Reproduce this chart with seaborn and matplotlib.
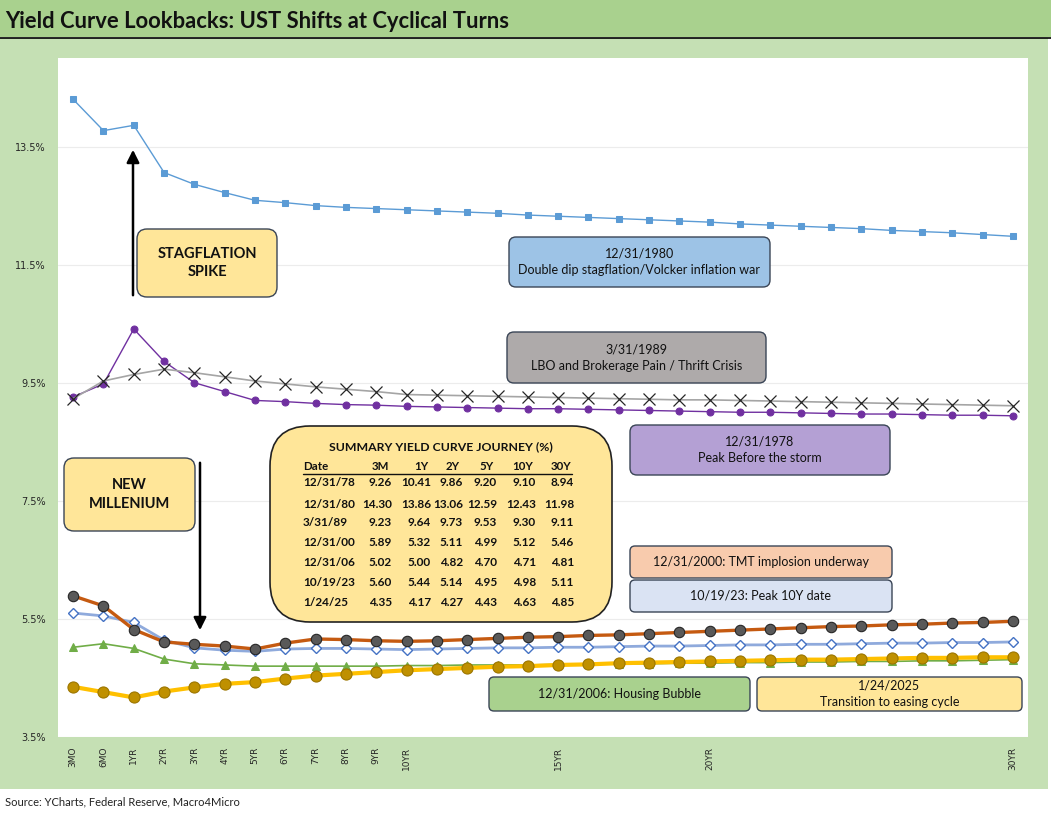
import numpy as np
import pandas as pd
import matplotlib
matplotlib.use("Agg")
import matplotlib.pyplot as plt
from matplotlib.patches import FancyBboxPatch, Rectangle, FancyArrowPatch
from matplotlib.lines import Line2D
import seaborn as sns

# ---------------- data ----------------
tenors = ["3MO", "6MO"] + [f"{i}YR" for i in range(1, 31)]
shown_ticks = ["3MO", "6MO", "1YR", "2YR", "3YR", "4YR", "5YR", "6YR", "7YR",
               "8YR", "9YR", "10YR", "15YR", "20YR", "30YR"]

y1978 = [9.26, 9.48, 10.41, 9.86, 9.50, 9.35, 9.20, 9.18, 9.15, 9.13, 9.12, 9.10,
         9.09, 9.08, 9.07, 9.06, 9.06, 9.05, 9.04, 9.03, 9.02, 9.01, 9.00, 9.00,
         8.99, 8.98, 8.97, 8.97, 8.96, 8.95, 8.95, 8.94]
y1980 = [14.30, 13.77, 13.86, 13.06, 12.86, 12.72, 12.59, 12.55, 12.50, 12.47, 12.45, 12.43,
         12.41, 12.39, 12.37, 12.34, 12.32, 12.30, 12.28, 12.26, 12.24, 12.22, 12.19, 12.17,
         12.15, 12.13, 12.11, 12.08, 12.06, 12.04, 12.01, 11.98]
y1989 = [9.23, 9.53, 9.64, 9.73, 9.67, 9.60, 9.53, 9.48, 9.43, 9.39, 9.35, 9.30,
         9.29, 9.28, 9.27, 9.26, 9.25, 9.24, 9.23, 9.22, 9.21, 9.21, 9.20, 9.19,
         9.18, 9.17, 9.16, 9.15, 9.14, 9.13, 9.12, 9.11]
y2000 = [5.89, 5.72, 5.32, 5.11, 5.07, 5.04, 4.99, 5.09, 5.16, 5.15, 5.13, 5.12,
         5.13, 5.15, 5.17, 5.19, 5.20, 5.22, 5.23, 5.25, 5.27, 5.29, 5.31, 5.33,
         5.35, 5.37, 5.38, 5.40, 5.41, 5.43, 5.44, 5.46]
y2006 = [5.02, 5.08, 5.00, 4.82, 4.74, 4.72, 4.70, 4.70, 4.70, 4.70, 4.70, 4.71,
         4.71, 4.72, 4.72, 4.72, 4.73, 4.73, 4.74, 4.74, 4.75, 4.75, 4.76, 4.76,
         4.77, 4.77, 4.78, 4.78, 4.79, 4.79, 4.80, 4.81]
y2023 = [5.60, 5.55, 5.44, 5.14, 5.01, 4.97, 4.95, 4.99, 5.00, 5.00, 4.99, 4.98,
         4.99, 5.00, 5.01, 5.01, 5.02, 5.02, 5.03, 5.04, 5.04, 5.05, 5.06, 5.06,
         5.07, 5.07, 5.08, 5.09, 5.09, 5.10, 5.10, 5.11]
y2025 = [4.35, 4.26, 4.17, 4.27, 4.34, 4.40, 4.43, 4.49, 4.54, 4.57, 4.60, 4.63,
         4.65, 4.67, 4.69, 4.70, 4.72, 4.73, 4.75, 4.76, 4.77, 4.78, 4.79, 4.80,
         4.81, 4.81, 4.82, 4.83, 4.84, 4.84, 4.85, 4.85]

table_dates = ["12/31/78", "12/31/80", "3/31/89", "12/31/00", "12/31/06", "10/19/23", "1/24/25"]
table_series = [y1978, y1980, y1989, y2000, y2006, y2023, y2025]
table_cols = ["3M", "1Y", "2Y", "5Y", "10Y", "30Y"]
table_tenors = ["3MO", "1YR", "2YR", "5YR", "10YR", "30YR"]

yticks = [3.5, 5.5, 7.5, 9.5, 11.5, 13.5]

# ---------------- figure ----------------
sns.set_style("white")
plt.rcParams["font.family"] = ["Lato", "DejaVu Sans"]

W, H = 1051, 816
fig = plt.figure(figsize=(W / 100, H / 100), dpi=100)
fig.patch.set_facecolor("white")

def fx(x):
    return x / W

def fy(y):
    return 1 - y / H

# backgrounds
fig.add_artist(Rectangle((0, fy(37)), 1, 37 / H, transform=fig.transFigure,
                         fc="#a9d18e", ec="none", zorder=-5))
fig.add_artist(Rectangle((0, fy(789)), fx(1048), (789 - 38) / H, transform=fig.transFigure,
                         fc="#c5e0b4", ec="none", zorder=-5))
fig.add_artist(Line2D([0, 1], [fy(37.5), fy(37.5)], transform=fig.transFigure,
                      color="black", lw=1.2, zorder=-4))

fig.text(fx(5), fy(22), "Yield Curve Lookbacks: UST Shifts at Cyclical Turns",
         fontsize=15.8, fontweight="bold", ha="left", va="center", color="#111111")
fig.text(fx(5), fy(802), "Source: YCharts, Federal Reserve, Macro4Micro",
         fontsize=8, ha="left", va="center", color="#222222")

ax = fig.add_axes([fx(58), fy(737), (1028 - 58) / W, (737 - 58) / H])
ax.set_facecolor("white")
pos = np.arange(len(tenors))

def draw(vals, **kw):
    df = pd.DataFrame({"x": pos, "y": vals})
    sns.lineplot(data=df, x="x", y="y", ax=ax, **kw)

draw(y1980, color="#5b9bd5", lw=1.0, marker="s", markersize=5,
     markerfacecolor="#5b9bd5", markeredgecolor="#5b9bd5")
draw(y1978, color="#7030a0", lw=1.0, marker="o", markersize=5,
     markerfacecolor="#7030a0", markeredgecolor="#7030a0")
draw(y1989, color="#a5a5a5", lw=1.2, marker="x", markersize=9,
     markeredgecolor="#262626", markeredgewidth=0.9)
draw(y2006, color="#70ad47", lw=1.2, marker="^", markersize=5.5,
     markerfacecolor="#70ad47", markeredgecolor="#70ad47")
draw(y2023, color="#8faadc", lw=2.0, marker="D", markersize=5.5,
     markerfacecolor="white", markeredgecolor="#4472c4", markeredgewidth=1.0)
draw(y2000, color="#c55a11", lw=2.4, marker="o", markersize=7.5,
     markerfacecolor="#595959", markeredgecolor="#262626", markeredgewidth=0.8)
draw(y2025, color="#ffc000", lw=3.0, marker="o", markersize=8,
     markerfacecolor="#bf9000", markeredgecolor="#9c7600", markeredgewidth=0.8)

ax.set_xlim(-0.5, len(tenors) - 0.5)
ax.set_ylim(3.5, 15.0)
ax.set_yticks(yticks)
ax.set_yticklabels([f"{v:.1f}%" for v in yticks], fontsize=7, family="DejaVu Sans")
ax.set_xticks(pos)
ax.set_xticklabels([t if t in shown_ticks else "" for t in tenors], rotation=90,
                   fontsize=6.5, family="DejaVu Sans")
ax.tick_params(axis="y", length=0, pad=9)
ax.tick_params(axis="x", length=0, pad=7)
ax.set_xlabel("")
ax.set_ylabel("")
ax.grid(axis="y", color="#ececec", lw=0.8)
ax.grid(axis="x", visible=False)
for s in ax.spines.values():
    s.set_visible(False)

# ---------------- annotation boxes ----------------
def box(x0, y0, x1, y1, fc, text=None, fs=9, weight="normal", rs=8, ec="#3a4556", lw=1.0):
    p = FancyBboxPatch((x0 / 100, (H - y1) / 100), (x1 - x0) / 100, (y1 - y0) / 100,
                       boxstyle=f"round,pad=0,rounding_size={rs / 100}",
                       transform=fig.dpi_scale_trans, fc=fc, ec=ec, lw=lw, zorder=3)
    fig.add_artist(p)
    if text is not None:
        fig.text(fx((x0 + x1) / 2), fy((y0 + y1) / 2), text, ha="center", va="center",
                 fontsize=fs, fontweight=weight, linespacing=1.45, color="#111111", zorder=4)

box(137, 229, 277, 297, "#ffe699", "STAGFLATION\nSPIKE", fs=10.5, weight="bold", rs=10)
box(64, 458, 195, 531, "#ffe699", "NEW\nMILLENIUM", fs=10.5, weight="bold", rs=10)
box(509, 237, 770, 287, "#9dc3e6", "12/31/1980\nDouble dip stagflation/Volcker inflation war", rs=7)
box(507, 332, 766, 383, "#aeaaaa", "3/31/1989\nLBO and Brokerage Pain / Thrift Crisis", rs=7)
box(630, 425, 890, 475, "#b4a0d4", "12/31/1978\nPeak Before the storm", rs=7)
box(630, 546, 892, 578, "#f8cbad", "12/31/2000: TMT implosion underway", rs=5)
box(630, 580, 892, 612, "#dae3f3", "10/19/23: Peak 10Y date", rs=5)
box(489, 677, 750, 711, "#a9d18e", "12/31/2006: Housing Bubble", rs=5)
box(757, 677, 1022, 711, "#ffe699", "1/24/2025\nTransition to easing cycle", rs=5)

# arrows
fig.add_artist(FancyArrowPatch((133 / 100, (H - 298) / 100), (133 / 100, (H - 147) / 100),
                               transform=fig.dpi_scale_trans, arrowstyle="-|>,head_length=5,head_width=2.5",
                               color="black", lw=1.8, mutation_scale=1.5, zorder=4))
fig.add_artist(FancyArrowPatch((200 / 100, (H - 460) / 100), (200 / 100, (H - 633) / 100),
                               transform=fig.dpi_scale_trans, arrowstyle="-|>,head_length=5,head_width=2.5",
                               color="black", lw=1.8, mutation_scale=1.5, zorder=4))

# summary table
box(270, 426, 612, 622, "#ffe699", None, rs=40, ec="#222222", lw=1.2)
fig.text(fx(441), fy(447), "SUMMARY YIELD CURVE JOURNEY (%)", ha="center", va="center",
         fontsize=8.8, fontweight="bold", color="#111111", zorder=5)
col_right = [392, 431, 463, 497, 536, 574]
hdr_y = 467
fig.text(fx(303), fy(hdr_y), "Date", ha="left", va="center", fontsize=8.3,
         fontweight="bold", color="#111111", zorder=5)
for c, xr in zip(table_cols, col_right):
    fig.text(fx(xr - 3), fy(hdr_y), c, ha="right", va="center", fontsize=8.3,
             fontweight="bold", color="#111111", zorder=5)
fig.add_artist(Line2D([fx(303), fx(572)], [fy(473.5), fy(473.5)], transform=fig.transFigure,
                      color="#111111", lw=1.0, zorder=5))
row_y = [483, 504, 523, 543, 563, 583, 603]
idx = [tenors.index(t) for t in table_tenors]
for d, ser, ry in zip(table_dates, table_series, row_y):
    fig.text(fx(303), fy(ry), d, ha="left", va="center", fontsize=8.5,
             fontweight="bold", color="#111111", zorder=5)
    for i, xr in zip(idx, col_right):
        fig.text(fx(xr), fy(ry), f"{ser[i]:.2f}", ha="right", va="center", fontsize=8.5,
                 fontweight="bold", color="#111111", zorder=5)

fig.savefig("out.png", dpi=100)
